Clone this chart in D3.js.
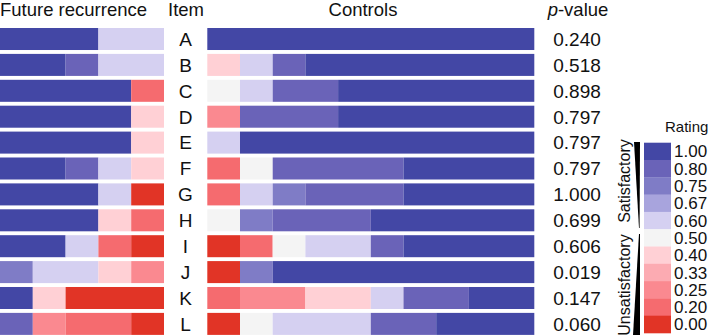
<!DOCTYPE html>
<html>
<head>
<meta charset="utf-8">
<script src="https://cdn.jsdelivr.net/npm/d3@7"></script>
<style>
  html, body { margin: 0; padding: 0; background: #fff; }
  svg { display: block; }
  text { font-family: "Liberation Sans", Arial, sans-serif; fill: #111; }
</style>
</head>
<body>
<svg id="chart" width="709" height="335"></svg>
<script>
// ---- data ----
const items = ["A","B","C","D","E","F","G","H","I","J","K","L"];
const pValues = ["0.240","0.518","0.898","0.797","0.797","0.797","1.000","0.699","0.606","0.019","0.147","0.060"];
const futureRecurrence = [
  [1.00,1.00,1.00,0.60,0.60],
  [1.00,1.00,0.80,0.60,0.60],
  [1.00,1.00,1.00,1.00,0.20],
  [1.00,1.00,1.00,1.00,0.40],
  [1.00,1.00,1.00,1.00,0.40],
  [1.00,1.00,0.80,0.60,0.40],
  [1.00,1.00,1.00,0.60,0.00],
  [1.00,1.00,1.00,0.40,0.20],
  [1.00,1.00,0.60,0.20,0.00],
  [0.75,0.60,0.60,0.40,0.25],
  [1.00,0.40,0.00,0.00,0.00],
  [0.80,0.25,0.20,0.20,0.00]
];
const controls = [
  [1.00,1.00,1.00,1.00,1.00,1.00,1.00,1.00,1.00,1.00],
  [0.40,0.60,0.80,1.00,1.00,1.00,1.00,1.00,1.00,1.00],
  [0.50,0.60,0.80,0.80,1.00,1.00,1.00,1.00,1.00,1.00],
  [0.25,0.80,0.80,0.80,1.00,1.00,1.00,1.00,1.00,1.00],
  [0.60,1.00,1.00,1.00,1.00,1.00,1.00,1.00,1.00,1.00],
  [0.20,0.50,0.80,0.80,0.80,0.80,1.00,1.00,1.00,1.00],
  [0.20,0.60,0.75,0.80,0.80,0.80,1.00,1.00,1.00,1.00],
  [0.50,0.75,0.80,0.80,0.80,1.00,1.00,1.00,1.00,1.00],
  [0.00,0.20,0.50,0.60,0.60,0.80,1.00,1.00,1.00,1.00],
  [0.00,0.75,1.00,1.00,1.00,1.00,1.00,1.00,1.00,1.00],
  [0.20,0.25,0.25,0.40,0.40,0.60,0.80,0.80,1.00,1.00],
  [0.00,0.50,0.60,0.60,0.60,0.80,0.80,1.00,1.00,1.00]
];
const ratingLevels = [1.00,0.80,0.75,0.67,0.60,0.50,0.40,0.33,0.25,0.20,0.00];
const ratingLabels = ["1.00","0.80","0.75","0.67","0.60","0.50","0.40","0.33","0.25","0.20","0.00"];
const ratingColors = ["#4347a5","#6a63b8","#7f7cc6","#a8a4dd","#d5d0f1","#f4f4f4","#ffd0d5","#fcabb2","#fa8990","#f56b6f","#e13426"];

// ---- scales ----
const svg = d3.select("#chart");
const color = d3.scaleOrdinal().domain(ratingLevels).range(ratingColors);
const y = d3.scaleBand().domain(items).range([28, 334.9]).paddingInner(0.15);
const xLeft = d3.scaleLinear().domain([0, 5]).range([0, 164]);
const xRight = d3.scaleLinear().domain([0, 10]).range([207.3, 534.3]);

// group consecutive equal ratings into runs so equal cells join seamlessly
function runs(arr) {
  const out = [];
  arr.forEach((v, j) => {
    const last = out[out.length - 1];
    if (last && last.v === v) last.end = j + 1;
    else out.push({ v: v, start: j, end: j + 1 });
  });
  return out;
}

function drawPanel(data, xs) {
  const g = svg.append("g");
  items.forEach((it, i) => {
    g.selectAll(null)
      .data(runs(data[i]))
      .enter().append("rect")
      .attr("x", d => xs(d.start))
      .attr("y", y(it))
      .attr("width", d => xs(d.end) - xs(d.start))
      .attr("height", y.bandwidth())
      .attr("fill", d => color(d.v));
  });
}
drawPanel(futureRecurrence, xLeft);
drawPanel(controls, xRight);

// headers
const hdr = svg.append("g").attr("font-size", 18.5);
hdr.append("text").attr("x", 0).attr("y", 16.3).text("Future recurrence");
hdr.append("text").attr("x", 186).attr("y", 16.3).attr("text-anchor", "middle").text("Item");
hdr.append("text").attr("x", 363).attr("y", 16.3).attr("text-anchor", "middle").text("Controls");
const pv = hdr.append("text").attr("x", 578).attr("y", 16.3).attr("text-anchor", "middle");
pv.append("tspan").attr("font-style", "italic").text("p");
pv.append("tspan").text("-value");

// item letters & p-values
svg.append("g").selectAll("text").data(items).enter().append("text")
  .attr("x", 185.5).attr("y", d => y(d) + y.bandwidth() / 2)
  .attr("dy", "0.36em").attr("text-anchor", "middle").attr("font-size", 19)
  .text(d => d);
svg.append("g").selectAll("text").data(pValues).enter().append("text")
  .attr("x", 577).attr("y", (d, i) => y(items[i]) + y.bandwidth() / 2)
  .attr("dy", "0.36em").attr("text-anchor", "middle").attr("font-size", 19)
  .text(d => d);

// legend
const ly = d3.scaleBand().domain(ratingLevels).range([142.7, 333]);
const leg = svg.append("g");
leg.append("text").attr("x", 665).attr("y", 132).attr("font-size", 15).text("Rating");
leg.selectAll("rect").data(ratingLevels).enter().append("rect")
  .attr("x", 644).attr("y", d => ly(d)).attr("width", 27).attr("height", ly.bandwidth() + 0.3)
  .attr("fill", d => color(d));
leg.selectAll("text.lab").data(ratingLabels).enter().append("text")
  .attr("class", "lab")
  .attr("x", 674).attr("y", (d, i) => ly(ratingLevels[i]) + ly.bandwidth() / 2)
  .attr("dy", "0.36em").attr("font-size", 17).text(d => d);

// wedges
leg.append("path").attr("d", "M634,142 L640,142 L639.6,228 L639,228 Z").attr("fill", "#000");
leg.append("path").attr("d", "M639,234 L640,234 L640,335 L633,335 Z").attr("fill", "#000");

leg.append("text").attr("transform", "translate(630,181) rotate(-90)")
  .attr("text-anchor", "middle").attr("font-size", 16).text("Satisfactory");
leg.append("text").attr("transform", "translate(630,285) rotate(-90)")
  .attr("text-anchor", "middle").attr("font-size", 16).text("Unsatisfactory");
</script>
</body>
</html>
